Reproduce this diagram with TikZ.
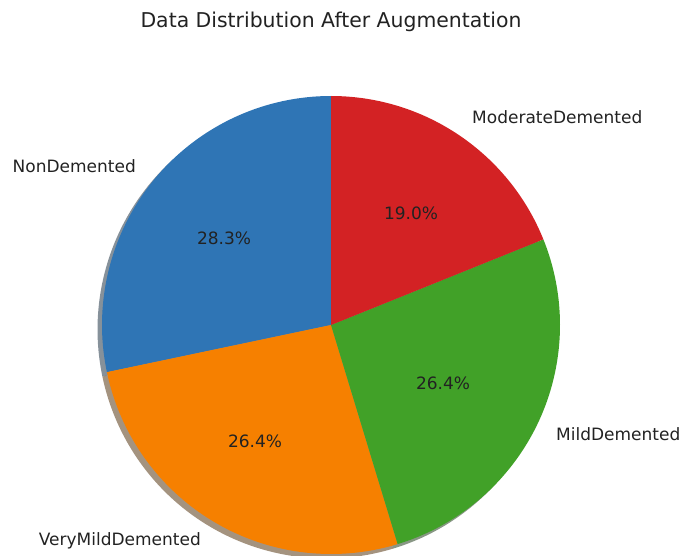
\documentclass[tikz,border=0pt]{standalone}
\usepackage{fontspec}
\setmainfont{DejaVu Sans}
\definecolor{cblue}{HTML}{2F75B5}
\definecolor{corange}{HTML}{F68000}
\definecolor{cgreen}{HTML}{41A128}
\definecolor{cred}{HTML}{D32224}
\definecolor{ink}{HTML}{222222}
\begin{document}
\begin{tikzpicture}[x=1pt,y=1pt,
  lbl/.style={text=ink,font=\fontsize{17}{20}\selectfont,inner sep=0pt},
  pct/.style={lbl,anchor=center},
  ttl/.style={text=ink,font=\fontsize{20.4}{24}\selectfont,inner sep=0pt}]
\useasboundingbox (0,0) rectangle (684,555);
\def\R{229}
% slice boundaries (degrees, counter-clockwise from 90)
\def\aA{90}\def\aB{191.88}\def\aC{286.92}\def\aD{381.96}\def\aE{450}
\coordinate (c) at (331,230);
\coordinate (s) at (326.5,225.5);
% drop shadow of each slice
\foreach \a/\b/\col in {\aA/\aB/cblue,\aB/\aC/corange,\aC/\aD/cgreen,\aD/\aE/cred}{
  \fill[\col!30!black,opacity=0.5] (s) -- ++(\a:\R) arc[start angle=\a,end angle=\b,radius=\R] -- cycle;
}
% slices
\foreach \a/\b/\col in {\aA/\aB/cblue,\aB/\aC/corange,\aC/\aD/cgreen,\aD/\aE/cred}{
  \fill[\col] (c) -- ++(\a:\R) arc[start angle=\a,end angle=\b,radius=\R] -- cycle;
}
% slice labels
\node[lbl,anchor=east] (l1) at (136,389) {NonDemented};
\node[lbl,anchor=east] (l2) at (201,14) {VeryMildDemented};
\node[lbl,anchor=west] (l3) at (556,121) {MildDemented};
\node[lbl,anchor=west] (l4) at (472,438) {ModerateDemented};
% percentages
\node[pct] (p1) at (224,317) {28.3\%};
\node[pct] (p2) at (255,114) {26.4\%};
\node[pct] (p3) at (443,172) {26.4\%};
\node[pct] (p4) at (411,342) {19.0\%};
% title
\node[ttl] (title) at (331,533) {Data Distribution After Augmentation};
\end{tikzpicture}
\end{document}
